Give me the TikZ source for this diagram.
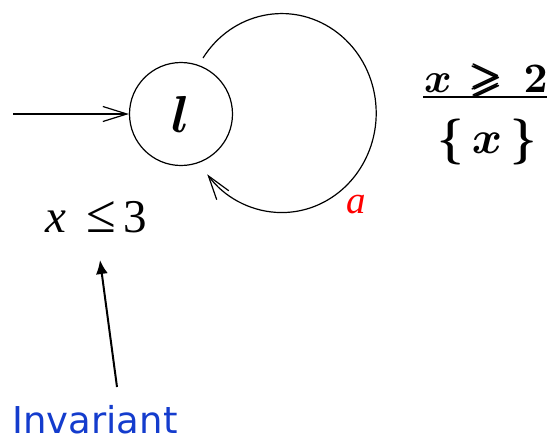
\documentclass[tikz,border=0pt]{standalone}
\DeclareFontShape{OML}{cmm}{m}{it}{<->cmmi10}{}
\DeclareFontShape{OML}{cmm}{b}{it}{<->cmmib10}{}
\DeclareFontShape{OMS}{cmsy}{m}{n}{<->cmsy10}{}
\DeclareFontShape{OMS}{cmsy}{b}{n}{<->cmbsy10}{}
\DeclareFontShape{OMX}{cmex}{m}{n}{<->cmex10}{}
\DeclareFontShape{OT1}{cmr}{m}{n}{<->cmr10}{}
\DeclareFontShape{OT1}{cmr}{bx}{n}{<->cmbx10}{}
\DeclareFontFamily{U}{msa}{}
\DeclareFontShape{U}{msa}{m}{n}{<->msam10}{}
\usepackage{amsmath,amssymb,bm,graphicx}
\usepackage[no-math]{fontspec}
\setmainfont{Liberation Serif}
\newfontfamily\dejavu{DejaVu Sans}
\usetikzlibrary{arrows.meta}
\definecolor{invblue}{RGB}{20,60,205}
\tikzset{
  statebox/.style={draw, circle, line width=1.2pt, minimum size=103pt, inner sep=0pt},
  thinline/.style={line width=1.2pt},
  barbtip/.style={-{Straight Barb[length=24pt,width=15pt,line width=1.2pt]}},
  guardtext/.style={font=\fontsize{46}{46}\selectfont, inner sep=0pt},
}
\begin{document}
\begin{tikzpicture}[x=1pt,y=-1pt]
\path[use as bounding box] (0,0) rectangle (552,442);
\node[statebox, font=\fontsize{52}{52}\selectfont] (st) at (181,114) {$\bm{l}$};
\coordinate (init) at (13,114);
\draw[thinline, line width=1.8pt, barbtip] (init) -- (st.west);
\coordinate (ls) at (203,58);
\draw[thinline, barbtip] (ls) arc[start angle=146.4, end angle=-142, x radius=94.5pt, y radius=99.5pt];
\node[text=red, font=\fontsize{39}{39}\selectfont\itshape, anchor=base] (a) at (356,213) {a};
% guard / reset as a fraction
\node[guardtext, font=\fontsize{42}{42}\selectfont, anchor=base east] (num) at (548,92) {$\bm{x}\hspace{5pt}\bm{\geqslant}\hspace{9pt}\mathbf{2}$};
\coordinate (rl) at (423,97);
\coordinate (rr) at (547,97);
\draw[line width=2pt] (rl) -- (rr);
\node[guardtext, anchor=base] (den) at (487,153) {$\bm{\{}\hspace{8pt}\bm{x}\hspace{8pt}\bm{\}}$};
% invariant
\node[anchor=base west, inner sep=0pt, font=\fontsize{47}{47}\selectfont] (inv) at (45,232) {\textit{x}\hspace{20pt}\scalebox{1.15}{≤}\hspace{8pt}3};
\node[anchor=base, text=invblue, font=\dejavu\fontsize{37}{37}\selectfont] (invlabel) at (95,433) {Invariant};
\coordinate (invtail) at (117,387);
\coordinate (invtip) at (100,260);
\draw[line width=2pt, -{Latex[length=14pt,width=12pt]}] (invtail) -- (invtip);
\end{tikzpicture}
\end{document}
